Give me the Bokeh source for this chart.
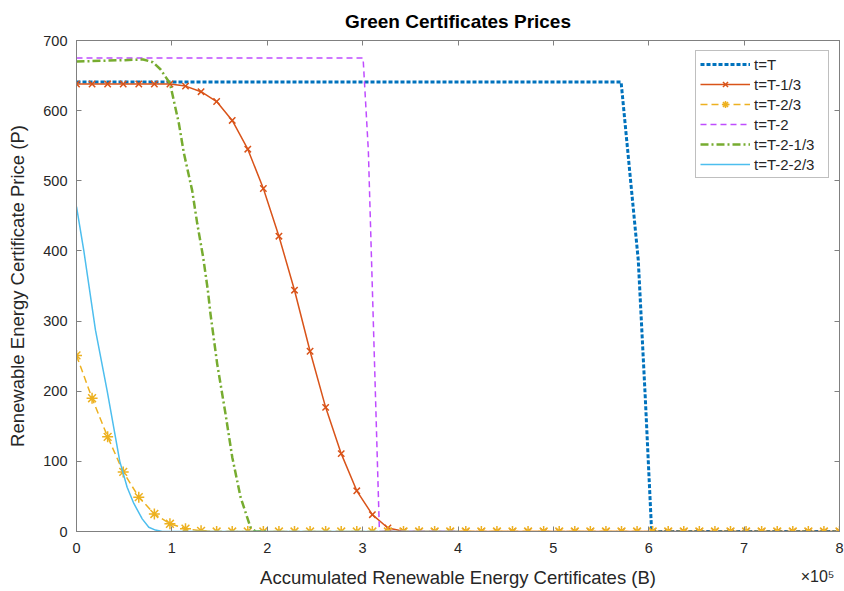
import numpy as np
from bokeh.plotting import figure
from bokeh.models import (LinearAxis, Range1d, Legend, LegendItem,
                          FixedTicker, CustomJSTickFormatter)
from bokeh.embed import file_html
from bokeh.resources import INLINE

# ---------------- data ----------------
X_TICKS = [0, 100000, 200000, 300000, 400000, 500000, 600000, 700000, 800000]
Y_TICKS = [0, 100, 200, 300, 400, 500, 600, 700]

# common sampling grid for the marked series (50 samples over 0..8e5)
B_GRID = np.linspace(0, 800000, 50)

P_T_1_3 = [638, 638, 638, 638, 638, 638, 638, 635, 627, 613,
           586, 545, 489, 421, 344, 257, 177, 111, 58, 24,
           5, 0.5, 0, 0, 0, 0, 0, 0, 0, 0,
           0, 0, 0, 0, 0, 0, 0, 0, 0, 0,
           0, 0, 0, 0, 0, 0, 0, 0, 0, 0]

P_T_2_3 = [251, 190, 135, 85, 49, 25, 11, 4, 1, 0,
           0, 0, 0, 0, 0, 0, 0, 0, 0, 0,
           0, 0, 0, 0, 0, 0, 0, 0, 0, 0,
           0, 0, 0, 0, 0, 0, 0, 0, 0, 0,
           0, 0, 0, 0, 0, 0, 0, 0, 0, 0]

B_T = [0, 571000, 589000, 596500, 603000, 800000]
P_T = [641, 641, 387, 187, 0, 0]

B_T2 = [0, 300500, 306000, 317600, 400000]
P_T2 = [675, 675, 543, 0, 0]

B_T2_1_3 = [0, 50000, 70000, 80000, 88000, 98000, 107300, 112500, 121300,
            126600, 132800, 137700, 140500, 147500, 156200, 163300, 172000,
            182400, 187700, 200000]
P_T2_1_3 = [670, 672, 673, 669, 659, 639, 582, 540, 486,
            439, 391, 344, 310, 239, 168, 106, 49,
            6, 0, 0]

B_T2_2_3 = [0, 7700, 19900, 32200, 45400, 53100, 60100, 68900, 75800, 82800,
            90000, 400000]
P_T2_2_3 = [463, 400, 287, 200, 100, 63, 40, 18, 6, 2,
            0, 0]

LABELS = ["t=T", "t=T-1/3", "t=T-2/3", "t=T-2", "t=T-2-1/3", "t=T-2-2/3"]
X_LABEL = "Accumulated Renewable Energy Certificates (B)"
Y_LABEL = "Renewable Energy Certificate Price (P)"
EXPONENT_TEXT = "×10⁵"

# ---------------- styling ----------------
FONT = "Liberation Sans"
AX_COLOR = "#808080"
TXT_COLOR = "#262626"
C_BLUE = "#0072BD"
C_ORANGE = "#D95319"
C_YELLOW = "#EDB120"
C_PURPLE = "#BF4CFF"
C_GREEN = "#77AC30"
C_CYAN = "#4DBEEE"
EXPONENT_AT = 777000   # horizontal placement of the "x10^5" note (layout only)

p = figure(width=844, height=591, output_backend="svg", toolbar_location=None,
           x_range=Range1d(0, 800000), y_range=Range1d(0, 700),
           title="Green Certificates Prices",
           min_border_left=76, min_border_right=5, min_border_top=40,
           min_border_bottom=60)

p.background_fill_color = "white"
p.border_fill_color = "white"
p.outline_line_color = AX_COLOR
p.outline_line_width = 1
p.xgrid.visible = False
p.ygrid.visible = False

p.title.align = "center"
p.title.text_font = FONT
p.title.text_font_size = "19px"
p.title.text_font_style = "bold"
p.title.text_color = "#000000"
p.title.standoff = 17

xfmt = CustomJSTickFormatter(code="return (tick/100000).toFixed(0);")
blank = CustomJSTickFormatter(code="return '';")
expo_fmt = CustomJSTickFormatter(code="return '%s';" % EXPONENT_TEXT)

def style_axis(ax, show_labels=True):
    ax.axis_line_color = AX_COLOR
    ax.major_tick_line_color = AX_COLOR
    ax.major_tick_in = 5
    ax.major_tick_out = 0
    ax.minor_tick_line_color = None
    ax.major_label_text_font = FONT
    ax.major_label_text_color = TXT_COLOR
    ax.axis_label_text_font = FONT
    ax.axis_label_text_color = TXT_COLOR
    ax.axis_label_text_font_style = "normal"
    if show_labels:
        ax.major_label_text_font_size = "14.5px"
        ax.axis_label_text_font_size = "18.5px"
    else:
        ax.formatter = blank
        ax.major_label_text_color = None
        ax.major_label_text_font_size = "1px"
        ax.major_label_standoff = 0

# main x axis: ticks and tick numbers only
xa = p.xaxis[0]
xa.ticker = FixedTicker(ticks=X_TICKS)
xa.formatter = xfmt
style_axis(xa)
xa.major_label_standoff = 11

# second row below: exponent note (as a tick label) and the axis title
xa2 = LinearAxis(ticker=FixedTicker(ticks=[EXPONENT_AT]), formatter=expo_fmt)
style_axis(xa2)
xa2.major_label_text_font_size = "16px"
xa2.axis_line_color = None
xa2.major_tick_line_color = None
xa2.major_tick_in = 0
xa2.major_tick_out = 0
xa2.major_label_standoff = 12
xa2.axis_label = X_LABEL
xa2.axis_label_standoff = -21
p.add_layout(xa2, "below")

ya = p.yaxis[0]
ya.ticker = FixedTicker(ticks=Y_TICKS)
ya.axis_label = Y_LABEL
style_axis(ya)
ya.major_label_standoff = 9
ya.axis_label_standoff = 12

top_ax = LinearAxis(ticker=FixedTicker(ticks=X_TICKS))
style_axis(top_ax, show_labels=False)
p.add_layout(top_ax, "above")
right_ax = LinearAxis(ticker=FixedTicker(ticks=Y_TICKS))
style_axis(right_ax, show_labels=False)
p.add_layout(right_ax, "right")

# ---------------- series ----------------
r_blue = p.line(B_T, P_T, color=C_BLUE, line_width=3, line_dash="4 2")

r_or_l = p.line(B_GRID, P_T_1_3, color=C_ORANGE, line_width=1.5)
r_or_m = p.scatter(B_GRID, P_T_1_3, marker="x", size=9, line_color=C_ORANGE,
                   line_width=1.5)

r_ye_l = p.line(B_GRID, P_T_2_3, color=C_YELLOW, line_width=1.5, line_dash="7 4")
r_ye_m = p.scatter(B_GRID, P_T_2_3, marker="asterisk", size=11,
                   line_color=C_YELLOW, line_width=1.5)

r_pu = p.line(B_T2, P_T2, color=C_PURPLE, line_width=1.5, line_dash="6 4")
r_gr = p.line(B_T2_1_3, P_T2_1_3, color=C_GREEN, line_width=2.5,
              line_dash="8 3 2 3")
r_cy = p.line(B_T2_2_3, P_T2_2_3, color=C_CYAN, line_width=1.5)

legend = Legend(items=[
    LegendItem(label=LABELS[0], renderers=[r_blue]),
    LegendItem(label=LABELS[1], renderers=[r_or_l, r_or_m]),
    LegendItem(label=LABELS[2], renderers=[r_ye_l, r_ye_m]),
    LegendItem(label=LABELS[3], renderers=[r_pu]),
    LegendItem(label=LABELS[4], renderers=[r_gr]),
    LegendItem(label=LABELS[5], renderers=[r_cy]),
], location="top_right")
legend.margin = 10
legend.padding = 4
legend.spacing = 2
legend.glyph_width = 50
legend.glyph_height = 18
legend.label_height = 18
legend.label_width = 70
legend.label_standoff = 4
legend.label_text_font = FONT
legend.label_text_font_size = "15px"
legend.label_text_color = TXT_COLOR
legend.border_line_color = AX_COLOR
legend.border_line_width = 1
legend.background_fill_color = "white"
legend.background_fill_alpha = 1
p.add_layout(legend)

open("out.html", "w").write(file_html(p, INLINE))
